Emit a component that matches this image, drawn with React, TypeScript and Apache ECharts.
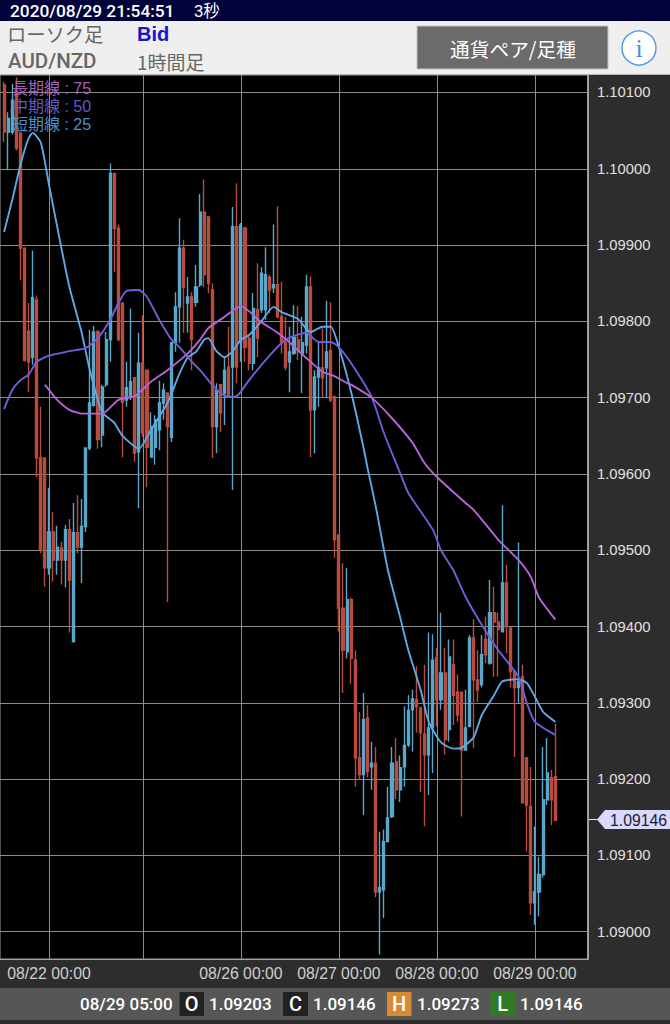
import React, { useEffect, useRef } from "react";
import * as echarts from "echarts";

const opens = [
1.10110,1.10048,1.10048,1.10103,1.10047,1.09896,1.09787,1.09753,1.09828,1.09621,
1.09621,1.09477,1.09524,1.09487,1.09503,1.09487,1.09527,1.09380,1.09523,1.09504,
1.09531,1.09634,1.09690,1.09786,1.09651,1.09717,1.09776,1.09994,1.09922,1.09824,
1.09697,1.09701,1.09726,1.09629,1.09745,1.09736,1.09622,1.09635,1.09658,1.09693,
1.09706,1.09648,1.09772,1.09819,1.09896,1.09824,1.09832,1.09825,1.09848,1.09943,
1.09937,1.09841,1.09662,1.09717,1.09706,1.09740,1.09740,1.09924,1.09773,1.09922,
1.09778,1.09745,1.09815,1.09815,1.09815,1.09858,1.09844,1.09848,1.09806,1.09772,
1.09747,1.09758,1.09776,1.09758,1.09769,1.09845,1.09684,1.09727,1.09739,1.09739,
1.09762,1.09701,1.09520,1.09424,1.09367,1.09435,1.09356,1.09228,1.09206,1.09280,
1.09216,1.09221,1.09052,1.09055,1.09118,1.09151,1.09223,1.09186,1.09216,1.09245,
1.09291,1.09304,1.09293,1.09259,1.09232,1.09267,1.09359,1.09304,1.09339,1.09265,
1.09350,1.09314,1.09314,1.09238,1.09269,1.09385,1.09330,1.09324,1.09383,1.09352,
1.09418,1.09406,1.09393,1.09457,1.09398,1.09341,1.09320,1.09334,1.09228,1.09164,
1.09038,1.09052,1.09075,1.09173,1.09202,1.09203,
];

const closes = [
1.10048,1.10066,1.10090,1.10027,1.09896,1.09749,1.09747,1.09831,1.09621,1.09500,
1.09477,1.09524,1.09487,1.09504,1.09487,1.09527,1.09461,1.09523,1.09504,1.09531,
1.09634,1.09693,1.09786,1.09645,1.09714,1.09776,1.09994,1.09922,1.09776,1.09694,
1.09713,1.09721,1.09627,1.09745,1.09654,1.09635,1.09662,1.09671,1.09693,1.09710,
1.09662,1.09772,1.09819,1.09896,1.09845,1.09832,1.09776,1.09845,1.09943,1.09861,
1.09850,1.09662,1.09710,1.09680,1.09736,1.09701,1.09924,1.09740,1.09926,1.09766,
1.09745,1.09817,1.09778,1.09863,1.09861,1.09841,1.09848,1.09806,1.09772,1.09740,
1.09760,1.09779,1.09760,1.09772,1.09845,1.09684,1.09727,1.09739,1.09726,1.09760,
1.09697,1.09514,1.09424,1.09369,1.09435,1.09358,1.09228,1.09206,1.09278,1.09210,
1.09221,1.09052,1.09058,1.09118,1.09149,1.09221,1.09186,1.09215,1.09244,1.09290,
1.09305,1.09295,1.09261,1.09232,1.09267,1.09356,1.09304,1.09339,1.09252,1.09360,
1.09310,1.09284,1.09238,1.09267,1.09385,1.09330,1.09317,1.09363,1.09363,1.09418,
1.09406,1.09396,1.09457,1.09400,1.09341,1.09320,1.09328,1.09169,1.09166,1.09038,
1.09052,1.09075,1.09173,1.09208,1.09173,1.09146,
];

const lows = [
1.10035,1.09998,1.10045,1.10024,1.09854,1.09747,1.09707,1.09743,1.09596,1.09496,
1.09452,1.09468,1.09459,1.09468,1.09455,1.09451,1.09392,1.09380,1.09496,1.09457,
1.09524,1.09631,1.09688,1.09633,1.09635,1.09714,1.09747,1.09865,1.09774,1.09622,
1.09688,1.09697,1.09616,1.09555,1.09648,1.09583,1.09622,1.09612,1.09631,1.09671,
1.09432,1.09642,1.09760,1.09772,1.09785,1.09785,1.09736,1.09819,1.09845,1.09845,
1.09837,1.09621,1.09627,1.09655,1.09664,1.09701,1.09579,1.09719,1.09747,1.09747,
1.09736,1.09736,1.09753,1.09811,1.09802,1.09811,1.09837,1.09804,1.09758,1.09736,
1.09707,1.09756,1.09749,1.09706,1.09758,1.09622,1.09627,1.09688,1.09700,1.09700,
1.09694,1.09490,1.09393,1.09313,1.09358,1.09325,1.09190,1.09199,1.09153,1.09202,
1.09186,1.09045,1.08970,1.09018,1.09117,1.09149,1.09174,1.09170,1.09190,1.09242,
1.09236,1.09261,1.09183,1.09138,1.09179,1.09208,1.09269,1.09291,1.09232,1.09249,
1.09271,1.09275,1.09151,1.09238,1.09269,1.09241,1.09301,1.09320,1.09352,1.09350,
1.09334,1.09334,1.09392,1.09365,1.09320,1.09229,1.09299,1.09169,1.09105,1.09022,
1.09009,1.09020,1.09071,1.09166,1.09140,1.09146,
];

const highs = [
1.10114,1.10074,1.10111,1.10120,1.10048,1.09897,1.09824,1.09893,1.09834,1.09688,
1.09621,1.09582,1.09550,1.09532,1.09511,1.09533,1.09541,1.09562,1.09572,1.09567,
1.09634,1.09789,1.09794,1.09789,1.09717,1.09786,1.10007,1.09994,1.09927,1.09824,
1.09747,1.09817,1.09726,1.09785,1.09808,1.09736,1.09681,1.09677,1.09722,1.09719,
1.09706,1.09772,1.09838,1.09935,1.09907,1.09858,1.09838,1.09874,1.09967,1.09986,
1.09937,1.09850,1.09719,1.09717,1.09752,1.09793,1.09950,1.09981,1.09929,1.09924,
1.09782,1.09837,1.09876,1.09871,1.09897,1.09861,1.09927,1.09951,1.09852,1.09806,
1.09793,1.09821,1.09820,1.09806,1.09861,1.09859,1.09736,1.09773,1.09791,1.09827,
1.09825,1.09703,1.09520,1.09483,1.09477,1.09438,1.09369,1.09288,1.09313,1.09297,
1.09249,1.09242,1.09131,1.09134,1.09190,1.09242,1.09254,1.09231,1.09295,1.09310,
1.09317,1.09348,1.09295,1.09350,1.09392,1.09390,1.09372,1.09418,1.09372,1.09383,
1.09383,1.09337,1.09314,1.09317,1.09389,1.09410,1.09369,1.09389,1.09413,1.09461,
1.09452,1.09418,1.09559,1.09481,1.09398,1.09341,1.09510,1.09350,1.09228,1.09216,
1.09138,1.09098,1.09242,1.09254,1.09212,1.09273,
];

const maShort: [number, number][] = [
[1,1.09917],[3,1.09959],[5,1.10005],[7,1.10040],[8,1.10047],[10,1.10034],[12,1.09979],[15,1.09897],
[17,1.09845],[20,1.09785],[22,1.09736],[25,1.09681],[28,1.09667],[30,1.09650],[34,1.09633],[37,1.09658],
[41,1.09693],[44,1.09732],[46,1.09753],[48,1.09760],[50,1.09776],[51,1.09778],[53,1.09761],[55,1.09753],
[57,1.09761],[59,1.09776],[61,1.09782],[64,1.09800],[67,1.09819],[69,1.09812],[73,1.09803],[76,1.09786],
[79,1.09793],[81,1.09793],[83,1.09766],[86,1.09707],[89,1.09635],[90,1.09608],[92,1.09558],[95,1.09474],
[98,1.09412],[100,1.09369],[103,1.09317],[105,1.09275],[108,1.09248],[111,1.09240],[113,1.09241],[116,1.09255],
[118,1.09284],[121,1.09310],[123,1.09328],[127,1.09331],[129,1.09326],[131,1.09308],[133,1.09288],[136,1.09275],
];

const maMid: [number, number][] = [
[1,1.09685],[3,1.09710],[5,1.09723],[7,1.09730],[9,1.09747],[12,1.09755],[17,1.09761],[21,1.09765],
[24,1.09778],[27,1.09802],[29,1.09824],[31,1.09840],[34,1.09841],[36,1.09832],[39,1.09802],[42,1.09776],
[44,1.09766],[47,1.09747],[49,1.09736],[51,1.09723],[54,1.09706],[56,1.09701],[58,1.09702],[61,1.09723],
[65,1.09749],[69,1.09772],[71,1.09779],[75,1.09785],[78,1.09773],[81,1.09773],[83,1.09766],[86,1.09745],
[91,1.09701],[94,1.09654],[98,1.09601],[100,1.09575],[106,1.09527],[108,1.09500],[111,1.09474],[114,1.09439],
[118,1.09402],[122,1.09369],[127,1.09334],[129,1.09300],[131,1.09275],[136,1.09258],
];

const maLong: [number, number][] = [
[11,1.09717],[14,1.09697],[17,1.09684],[20,1.09679],[25,1.09679],[29,1.09697],[33,1.09702],[37,1.09721],
[41,1.09736],[46,1.09758],[49,1.09776],[51,1.09791],[55,1.09806],[59,1.09820],[64,1.09799],[68,1.09785],
[71,1.09772],[75,1.09752],[79,1.09734],[82,1.09728],[85,1.09719],[86,1.09717],[91,1.09700],[96,1.09673],
[101,1.09641],[104,1.09614],[107,1.09596],[114,1.09562],[116,1.09553],[122,1.09514],[127,1.09487],[130,1.09465],
[132,1.09438],[136,1.09409],
];

const priceTicks = [1.09, 1.091, 1.092, 1.093, 1.094, 1.095, 1.096, 1.097, 1.098, 1.099, 1.1, 1.101];
const dateLabels: Record<number, string> = {
  12: "08/22 00:00",
  59: "08/26 00:00",
  83: "08/27 00:00",
  107: "08/28 00:00",
  131: "08/29 00:00",
};
const dayLines = [12, 35, 59, 83, 107, 131];
const slotCount = 145;

const CJK = '"Noto Sans CJK JP", "Liberation Sans", sans-serif';
const LATIN = '"Liberation Sans", Arial, sans-serif';
const LATIN_CJK = '"Liberation Sans", "Noto Sans CJK JP", sans-serif';
const MEDIUM = 'Roboto, "Liberation Sans", sans-serif';

function txt(x: number, y: number, text: string, fontSize: number, fill: string, extra: any = {}) {
  return {
    type: "text",
    x,
    y,
    z: 100,
    style: { text, fontSize, fill, fontFamily: CJK, textVerticalAlign: "middle", textAlign: "left", ...extra },
  };
}
function box(x: number, y: number, width: number, height: number, fill: string, extra: any = {}) {
  return { type: "rect", x, y, z: 90, shape: { x: 0, y: 0, width, height }, style: { fill, ...extra } };
}

export default function App() {
  const ref = useRef<HTMLDivElement>(null);
  useEffect(() => {
    document.body.style.margin = "0";
    document.body.style.background = "#2d2d2d";
    const chart = echarts.init(ref.current!, undefined, { renderer: "svg" });
    const categories = Array.from({ length: slotCount }, (_, k) => dateLabels[k] ?? "");
    const candleData: any[] = [["-", "-", "-", "-"]];
    opens.forEach((o, i) => candleData.push([o, closes[i], lows[i], highs[i]]));
    const line = (name: string, data: [number, number][], color: string) => ({
      type: "line",
      name,
      data,
      showSymbol: false,
      symbol: "none",
      smooth: 0.2,
      z: 5,
      lineStyle: { color, width: 1.9 },
      itemStyle: { color },
    });
    const bottomValue = { fontFamily: MEDIUM, fontWeight: 500 };
    const boxLetter = { fontFamily: MEDIUM, fontWeight: 500, textAlign: "center" };
    chart.setOption({
      animation: false,
      backgroundColor: "#2d2d2d",
      grid: {
        left: 0,
        top: 75,
        width: 588,
        height: 884,
        show: true,
        backgroundColor: "#000",
        borderColor: "#a0a0a0",
        borderWidth: 1,
      },
      legend: {
        orient: "vertical",
        left: 7,
        top: 79.5,
        padding: 0,
        itemGap: 1,
        itemWidth: 0,
        itemHeight: 0,
        selectedMode: false,
        z: 20,
        textStyle: { fontSize: 16, fontFamily: LATIN_CJK, lineHeight: 17 },
        data: [
          { name: "長期線 : 75", icon: "none", textStyle: { color: "#a65fb8" } },
          { name: "中期線 : 50", icon: "none", textStyle: { color: "#6459c4" } },
          { name: "短期線 : 25", icon: "none", textStyle: { color: "#4f8ec6" } },
        ],
      },
      xAxis: {
        type: "category",
        data: categories,
        boundaryGap: false,
        axisLine: { show: true, lineStyle: { color: "#a0a0a0", width: 1 } },
        axisTick: { show: false },
        axisLabel: {
          color: "#cfcfcf",
          fontSize: 15.8,
          fontFamily: LATIN,
          margin: 6,
          interval: (k: number) => dateLabels[k] !== undefined,
        },
        splitLine: {
          show: true,
          interval: (k: number) => dayLines.includes(k),
          lineStyle: { color: "#8c8c8c", width: 1 },
        },
      },
      yAxis: {
        type: "value",
        position: "right",
        min: 1.089642,
        max: 1.101229,
        scale: true,
        axisLine: { show: true, onZero: false, lineStyle: { color: "#a0a0a0", width: 2 } },
        axisTick: { show: false, customValues: priceTicks },
        axisLabel: {
          customValues: priceTicks,
          color: "#e0e0e0",
          fontSize: 14.8,
          fontFamily: LATIN,
          margin: 9,
          padding: [5, 0, 0, 0],
          formatter: (v: number) => v.toFixed(5),
        },
        splitLine: { show: true, lineStyle: { color: "#8c8c8c", width: 1 } },
      },
      series: [
        {
          type: "candlestick",
          name: "AUD/NZD",
          data: candleData,
          barWidth: 2.6,
          z: 3,
          itemStyle: {
            color: "#5ba6c9",
            color0: "#b84c40",
            borderColor: "#5ba6c9",
            borderColor0: "#b84c40",
            borderWidth: 1.4,
          },
        },
        line("短期線 : 25", maShort, "#5fa8e6"),
        line("中期線 : 50", maMid, "#6d5fd8"),
        line("長期線 : 75", maLong, "#b565d8"),
      ],
      graphic: {
        elements: [
          box(0, 0, 670, 21, "#02023a"),
          txt(10, 10.5, "2020/08/29 21:54:51", 17.3, "#ffffff", { fontFamily: MEDIUM, fontWeight: 500 }),
          txt(194, 10.5, "3秒", 16.5, "#ffffff", { fontFamily: LATIN_CJK }),
          box(0, 21, 670, 53, "#efefef"),
          box(0, 74, 670, 1, "#b8b8b8"),
          txt(7, 34, "ローソク足", 19.3, "#666666"),
          txt(8, 61, "AUD/NZD", 20.5, "#666666", { fontFamily: MEDIUM, fontWeight: 500 }),
          txt(137, 34, "Bid", 20, "#1616c8", { fontFamily: LATIN, fontWeight: "bold" }),
          txt(137, 61, "1時間足", 19, "#666666"),
          box(417, 26, 191, 43, "#6b6b6b", { stroke: "#c4c4c4", lineWidth: 1 }),
          txt(513, 48, "通貨ペア/足種", 19.7, "#ffffff", { textAlign: "center" }),
          {
            type: "circle",
            z: 100,
            shape: { cx: 639, cy: 48, r: 17 },
            style: { fill: "#ffffff", stroke: "#5a9be0", lineWidth: 1.5 },
          },
          txt(639, 48, "i", 26, "#4a8fe0", { textAlign: "center", fontFamily: '"Liberation Serif", serif' }),
          box(589, 819, 10, 1, "#e8e8e8"),
          {
            type: "polygon",
            z: 100,
            shape: {
              points: [
                [597, 819.5],
                [605, 810],
                [670, 810],
                [670, 829],
                [605, 829],
              ],
            },
            style: { fill: "#d9d9fb" },
          },
          txt(610, 820, "1.09146", 15.8, "#1c1c2e", { fontFamily: LATIN }),
          box(0, 988, 670, 32, "#565656"),
          txt(80, 1004, "08/29 05:00", 17, "#ffffff", bottomValue),
          box(179.5, 992, 24.5, 24, "#222222"),
          txt(191.7, 1004, "O", 20, "#ffffff", boxLetter),
          txt(209, 1004, "1.09203", 17, "#ffffff", bottomValue),
          box(283, 992, 25, 24, "#222222"),
          txt(295.5, 1004, "C", 20, "#ffffff", boxLetter),
          txt(313, 1004, "1.09146", 17, "#ffffff", bottomValue),
          box(387, 992, 24.5, 24, "#d98a35"),
          txt(399.2, 1004, "H", 20, "#ffffff", boxLetter),
          txt(417, 1004, "1.09273", 17, "#ffffff", bottomValue),
          box(490.5, 992, 24.5, 24, "#2f7a23"),
          txt(502.7, 1004, "L", 20, "#ffffff", boxLetter),
          txt(520, 1004, "1.09146", 17, "#ffffff", bottomValue),
        ],
      },
    });
    return () => chart.dispose();
  }, []);
  return <div ref={ref} style={{ position: "absolute", left: 0, top: 0, width: 670, height: 1024 }} />;
}
